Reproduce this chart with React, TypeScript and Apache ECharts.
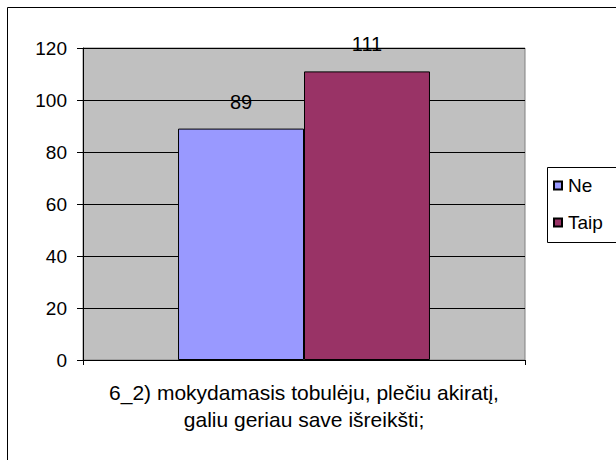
import React, { useEffect, useRef } from "react";
import * as echarts from "echarts";

const categories = ["6_2) mokydamasis tobulėju, plečiu akiratį,\ngaliu geriau save išreikšti;"];
const seriesNames = ["Ne", "Taip"];
const neValues = [89];
const taipValues = [111];
const yTicks = { min: 0, max: 120, interval: 20 };

const FONT = "'Liberation Sans', Arial, sans-serif";

export default function App() {
  const ref = useRef<HTMLDivElement>(null);
  useEffect(() => {
    if (!ref.current) return;
    const chart = echarts.init(ref.current, undefined, { renderer: "svg" });
    const labelCfg = {
      show: true,
      position: "top",
      distance: 17,
      color: "#000",
      fontSize: 20,
      fontFamily: FONT,
    };
    chart.setOption({
      animation: false,
      backgroundColor: "#fff",
      textStyle: { fontFamily: FONT },
      grid: {
        left: 83,
        top: 48,
        right: 91,
        bottom: 100,
        show: true,
        backgroundColor: "#C0C0C0",
        borderColor: "#808080",
        borderWidth: 1,
      },
      graphic: [
        {
          type: "rect",
          shape: { x: 7.5, y: 7.5, width: 640, height: 480 },
          style: { fill: "none", stroke: "#000", lineWidth: 1 },
          silent: true,
          z: -10,
        },
        {
          type: "rect",
          shape: { x: 547.5, y: 167.5, width: 100, height: 75 },
          style: { fill: "#fff", stroke: "#000", lineWidth: 1 },
          silent: true,
          z: 1,
        },
      ],
      legend: {
        orient: "vertical",
        left: 553,
        top: 176,
        icon: "rect",
        itemWidth: 8,
        itemHeight: 8,
        itemGap: 18,
        padding: 0,
        z: 5,
        textStyle: { fontSize: 19, color: "#000", fontFamily: FONT, padding: [0, 0, 0, 1] },
        data: seriesNames,
      },
      xAxis: {
        type: "category",
        data: categories,
        axisLine: { show: true, lineStyle: { color: "#000", width: 1 } },
        axisTick: { show: true, length: 5, lineStyle: { color: "#000" } },
        axisLabel: {
          interval: 0,
          fontSize: 21,
          lineHeight: 27,
          margin: 19,
          color: "#000",
          fontFamily: FONT,
          align: "center",
        },
        splitLine: { show: false },
      },
      yAxis: {
        type: "value",
        min: yTicks.min,
        max: yTicks.max,
        interval: yTicks.interval,
        axisLine: { show: true, lineStyle: { color: "#000", width: 1 } },
        axisTick: { show: true, length: 6, lineStyle: { color: "#000" } },
        axisLabel: { fontSize: 19, margin: 16, color: "#000", fontFamily: FONT },
        splitLine: { show: true, lineStyle: { color: "#000", width: 1 } },
      },
      series: [
        {
          name: seriesNames[0],
          type: "bar",
          data: neValues,
          barGap: "0%",
          barCategoryGap: "43%",
          itemStyle: { color: "#9999FF", borderColor: "#000", borderWidth: 1 },
          label: labelCfg,
        },
        {
          name: seriesNames[1],
          type: "bar",
          data: taipValues,
          barGap: "0%",
          barCategoryGap: "43%",
          itemStyle: { color: "#993366", borderColor: "#000", borderWidth: 1 },
          label: labelCfg,
        },
      ],
    });
    return () => chart.dispose();
  }, []);
  return (
    <div
      ref={ref}
      style={{ position: "fixed", left: 0, top: 0, width: 616, height: 460 }}
    />
  );
}
